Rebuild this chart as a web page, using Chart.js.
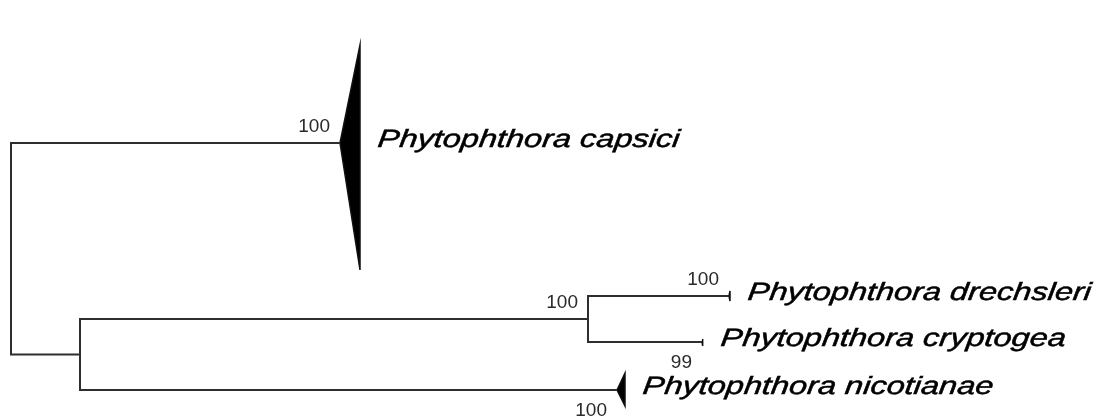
<!DOCTYPE html>
<html>
<head>
<meta charset="utf-8">
<script src="https://cdn.jsdelivr.net/npm/chart.js@4"></script>
<style>
  html, body { margin: 0; padding: 0; background: #fff; overflow: hidden; }
  #wrap { width: 1097px; height: 417px; }
</style>
</head>
<body>
<div id="wrap"><canvas id="tree" width="1097" height="417"></canvas></div>
<script>
// Terminal taxa (collapsed clades and single tips)
const taxa = ['Phytophthora capsici', 'Phytophthora drechsleri', 'Phytophthora cryptogea', 'Phytophthora nicotianae'];
// Distance from the root to the base of each terminal clade
const tipDepth = [0.329, 0.718, 0.691, 0.606];
// Extra depth spanned by each collapsed clade (triangle width)
const cladeDepth = [0.020, 0.001, 0.001, 0.008];
// Vertical layout position of each tip, and the extent of its collapsed clade
const tipY = [143, 296, 342, 390];
const cladeTop = [45, 291, 339, 373];
const cladeBottom = [270, 301, 346, 406];
// Bootstrap support on each terminal branch
const tipSupport = [100, 100, 99, 100];

// Internal nodes: depth from the root, children ('t' = tip, 'n' = node), bootstrap support
const nodeDepth = [0, 0.069, 0.577];
const nodeChildren = [['t0', 'n1'], ['n2', 't3'], ['t1', 't2']];
const nodeSupport = [null, null, 100];

// Support labels that sit under their branch instead of above it
const supportBelow = new Set(['t2', 't3']);

// ---- resolve node positions -------------------------------------------
function refX(ref) {
  const i = +ref.slice(1);
  return ref[0] === 't' ? tipDepth[i] : nodeDepth[i];
}
const nodeY = [];
function refY(ref) {
  const i = +ref.slice(1);
  if (ref[0] === 't') return tipY[i];
  if (nodeY[i] === undefined) {
    const kids = nodeChildren[i];
    nodeY[i] = (refY(kids[0]) + refY(kids[kids.length - 1])) / 2;
  }
  return nodeY[i];
}

// Rectangular (elbow) branches: one bracket per internal node, gaps between
const branchPoints = [];
nodeChildren.forEach((kids, i) => {
  const px = nodeDepth[i];
  const first = kids[0], last = kids[kids.length - 1];
  branchPoints.push(
    { x: refX(first), y: refY(first) },
    { x: px, y: refY(first) },
    { x: px, y: refY(last) },
    { x: refX(last), y: refY(last) },
    { x: px, y: null }
  );
});

// Collapsed clades drawn as filled triangles
const cladeSets = taxa.map((name, i) => ({
  label: name,
  data: [
    { x: tipDepth[i], y: tipY[i] },
    { x: tipDepth[i] + cladeDepth[i], y: cladeTop[i] },
    { x: tipDepth[i] + cladeDepth[i], y: cladeBottom[i] },
    { x: tipDepth[i], y: tipY[i] }
  ],
  showLine: true,
  fill: 'shape',
  backgroundColor: '#000',
  borderColor: '#111',
  borderWidth: 1.5,
  pointRadius: 0,
  tension: 0
}));

// Support values anchored to the end of the branch they belong to
const supportLabels = [];
tipSupport.forEach((v, i) => {
  if (v != null) supportLabels.push({ ref: 't' + i, x: tipDepth[i], y: tipY[i], text: String(v) });
});
nodeSupport.forEach((v, i) => {
  if (v != null) supportLabels.push({ ref: 'n' + i, x: nodeDepth[i], y: refY('n' + i), text: String(v) });
});

const treeLabels = {
  id: 'treeLabels',
  afterDatasetsDraw(chart) {
    const { ctx, scales: { x, y } } = chart;
    ctx.save();

    ctx.font = '19px "Liberation Sans", Arial, sans-serif';
    ctx.fillStyle = '#2a2a2a';
    ctx.textAlign = 'right';
    ctx.textBaseline = 'alphabetic';
    supportLabels.forEach(s => {
      const px = x.getPixelForValue(s.x) - 10;
      const py = y.getPixelForValue(s.y);
      ctx.fillText(s.text, px, supportBelow.has(s.ref) ? py + 26 : py - 11);
    });

    // Species names: wide, steeply slanted italic
    ctx.font = 'italic 25px "Liberation Sans", Arial, sans-serif';
    ctx.fillStyle = '#000';
    ctx.strokeStyle = '#000';
    ctx.lineWidth = 0.5;
    ctx.textAlign = 'left';
    taxa.forEach((name, i) => {
      const px = x.getPixelForValue(tipDepth[i] + cladeDepth[i]) + 17;
      const py = y.getPixelForValue(tipY[i]) + 4;
      ctx.save();
      ctx.transform(1.3, 0, -0.12, 1, px, py);
      ctx.fillText(name, 0, 0);
      ctx.strokeText(name, 0, 0);
      ctx.restore();
    });

    ctx.restore();
  }
};

new Chart(document.getElementById('tree'), {
  type: 'scatter',
  data: {
    datasets: [
      {
        label: 'branches',
        data: branchPoints,
        showLine: true,
        spanGaps: false,
        borderColor: '#2e2e2e',
        borderWidth: 2,
        borderJoinStyle: 'miter',
        borderCapStyle: 'butt',
        pointRadius: 0,
        fill: false,
        tension: 0
      },
      ...cladeSets
    ]
  },
  options: {
    responsive: false,
    animation: false,
    layout: { padding: 0 },
    plugins: { legend: { display: false }, tooltip: { enabled: false } },
    scales: {
      x: { type: 'linear', display: false, min: -0.011, max: 1.086 },
      y: { type: 'linear', display: false, min: 0, max: 417, reverse: true }
    }
  },
  plugins: [treeLabels]
});
</script>
</body>
</html>
